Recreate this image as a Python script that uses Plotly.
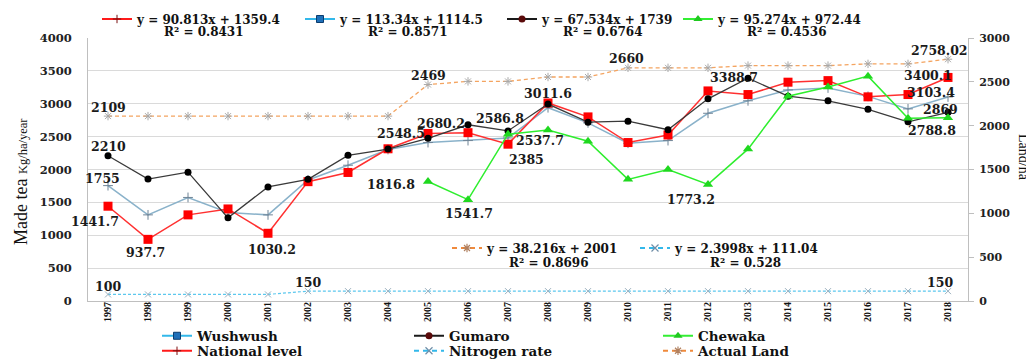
import plotly.graph_objects as go

# ---------------- data ----------------
years = [str(y) for y in range(1997, 2019)]

wushwush = [1755, 1310, 1575, 1345, 1310, 1840, 2065, 2305, 2410, 2440, 2480,
            2940, 2710, 2400, 2440, 2855, 3045, 3210, 3240, 3112, 2922, 3103.4]
gumaro = [2210, 1855, 1960, 1265, 1735, 1850, 2215, 2310, 2475, 2680.2, 2586.8,
          2995, 2720, 2735, 2605, 3075, 3388.7, 3115, 3045, 2915, 2725, 2869]
chewaka = [None, None, None, None, None, None, None, None, 1816.8, 1541.7, 2537.7,
           2600, 2430, 1850, 2000, 1773.2, 2310, 3115, 3255, 3420, 2780, 2788.8]
national = [1441.7, 937.7, 1310, 1400, 1030.2, 1815, 1955, 2315, 2548.5, 2560, 2385,
            3011.6, 2800, 2410, 2525, 3195, 3140, 3328, 3352, 3105, 3140, 3400.1]
nitrogen = [100, 100, 100, 100, 100, 150, 150, 150, 150, 150, 150,
            150, 150, 150, 150, 150, 150, 150, 150, 150, 150, 150]
actual_land = [2109, 2109, 2109, 2109, 2109, 2109, 2109, 2109, 2469, 2505, 2505,
               2555, 2555, 2660, 2660, 2660, 2685, 2685, 2685, 2705, 2705, 2758.02]

trend_eq = {
    "national": ("y = 90.813x + 1359.4", "R² = 0.8431"),
    "wushwush": ("y = 113.34x + 1114.5", "R² = 0.8571"),
    "gumaro": ("y = 67.534x + 1739", "R² = 0.6764"),
    "chewaka": ("y = 95.274x + 972.44", "R² = 0.4536"),
    "land": ("y = 38.216x + 2001", "R² = 0.8696"),
    "nitrogen": ("y = 2.3998x + 111.04", "R² = 0.528"),
}

series = {
    "wushwush": wushwush, "gumaro": gumaro, "chewaka": chewaka,
    "national": national, "nitrogen": nitrogen, "land": actual_land,
}
series_axis = {"wushwush": "y", "gumaro": "y", "chewaka": "y",
               "national": "y", "nitrogen": "y", "land": "y2"}

# data labels: (series, year, xshift, yshift)
data_labels = [
    ("gumaro", "1997", 0, 9), ("wushwush", "1997", -6, 7),
    ("national", "1997", -13, -15), ("national", "1998", -3, -13),
    ("national", "2001", 4, -16), ("nitrogen", "1997", 0, 8),
    ("nitrogen", "2002", 0, 9), ("nitrogen", "2018", -8, 9),
    ("land", "1997", 0, 9), ("land", "2005", 0, 9), ("land", "2010", -2, 9),
    ("land", "2018", -9, 9), ("chewaka", "2005", -37, -3),
    ("chewaka", "2006", 1, -14), ("chewaka", "2012", -17, -15),
    ("national", "2005", -27, 0), ("gumaro", "2006", -27, 1),
    ("gumaro", "2007", -8, 12), ("chewaka", "2007", 32, -6),
    ("national", "2007", 18, -15), ("national", "2008", 0, 9),
    ("gumaro", "2013", -14, 1), ("national", "2018", -20, 2),
    ("wushwush", "2018", -17, 4), ("gumaro", "2018", -8, 3),
    ("chewaka", "2018", -16, -13),
]

# ---------------- geometry (reference-pixel frame) ----------------
# the page places the figure 8px in from the top-left corner
OFF = 8
W, H = 1034 - OFF, 360 - OFF
PL, PR, PT, PB = 88, 968, 38, 301   # plot area in reference pixels


def px_x(px):
    return (px - PL) / (PR - PL)


def px_y(py):
    return (PB - py) / (PB - PT)


SERIF = "DejaVu Serif"
TIMES = "Liberation Serif"

styles = {
    "national": dict(line=dict(color="#FF3030", width=1.5),
                     marker=dict(symbol="square", size=9, color="#FF0000")),
    "wushwush": dict(line=dict(color="#8AB2CA", width=1.5),
                     marker=dict(symbol="cross-thin", size=7,
                                 line=dict(color="#6F8496", width=1))),
    "gumaro": dict(line=dict(color="#3A3A3A", width=1.3),
                   marker=dict(symbol="circle", size=7, color="#000000")),
    "chewaka": dict(line=dict(color="#2EEE2E", width=1.5),
                    marker=dict(symbol="triangle-up", size=9, color="#1FD81F")),
    "nitrogen": dict(line=dict(color="#5CC8EE", width=1.2, dash="3px,2px"),
                     marker=dict(symbol="x-thin", size=6,
                                 line=dict(color="#9AAFBE", width=1))),
    "land": dict(line=dict(color="#F4A460", width=1.3, dash="4px,3px"),
                 marker=dict(symbol="asterisk", size=7,
                             line=dict(color="#A8A8A8", width=1))),
}

legend_styles = {
    "wushwush": dict(line=dict(color="#33B8EA", width=2),
                     marker=dict(symbol="square", size=7, color="#1F6FB8",
                                 line=dict(color="#0B3C6E", width=1))),
    "national": dict(line=dict(color="#FF1A1A", width=2),
                     marker=dict(symbol="cross-thin", size=6,
                                 line=dict(color="#7A1010", width=1))),
    "gumaro": dict(line=dict(color="#1A1A1A", width=2),
                   marker=dict(symbol="circle", size=7, color="#5A0A0A")),
    "chewaka": dict(line=dict(color="#33EE33", width=2),
                    marker=dict(symbol="triangle-up", size=8, color="#1FC81F")),
    "nitrogen": dict(line=dict(color="#33B8EA", width=2, dash="5px,4px"),
                     marker=dict(symbol="x-thin", size=7,
                                 line=dict(color="#6F8EA8", width=1.2))),
    "land": dict(line=dict(color="#F08A3C", width=2, dash="5px,4px"),
                 marker=dict(symbol="asterisk", size=7,
                             line=dict(color="#B08060", width=1.2))),
}

fig = go.Figure()

draw_order = ["nitrogen", "wushwush", "national", "gumaro", "chewaka", "land"]
for key in draw_order:
    fig.add_trace(go.Scatter(
        x=years, y=series[key], mode="lines+markers",
        yaxis=series_axis[key], showlegend=False, hoverinfo="skip",
        connectgaps=False, **styles[key]))

# ---------------- legends (one item each) ----------------
EQ_FS = 12
LG_FS = 13.5
legend_items = [
    # key, text, text-start px, center-y px, font size
    ("wushwush", "Wushwush", 197, 336, LG_FS),
    ("national", "National level", 197, 351, LG_FS),
    ("gumaro", "Gumaro", 449, 336, LG_FS),
    ("nitrogen", "Nitrogen rate", 449, 351, LG_FS),
    ("chewaka", "Chewaka", 698, 336, LG_FS),
    ("land", "Actual Land", 698, 351, LG_FS),
    ("national", trend_eq["national"][0], 137, 19, EQ_FS),
    ("wushwush", trend_eq["wushwush"][0], 340, 19, EQ_FS),
    ("gumaro", trend_eq["gumaro"][0], 542, 19, EQ_FS),
    ("chewaka", trend_eq["chewaka"][0], 718, 19, EQ_FS),
    ("land", trend_eq["land"][0], 487, 248, EQ_FS),
    ("nitrogen", trend_eq["nitrogen"][0], 675, 248, EQ_FS),
]

layout_legends = {}
for i, (key, text, tx, cy, fs) in enumerate(legend_items):
    lid = "legend" if i == 0 else f"legend{i + 1}"
    fig.add_trace(go.Scatter(
        x=[None], y=[None], mode="lines+markers", name=text,
        legend=lid, showlegend=True, hoverinfo="skip",
        **legend_styles[key]))
    layout_legends[lid] = dict(
        x=px_x(tx - 40), y=px_y(cy), xanchor="left", yanchor="middle",
        bgcolor="rgba(0,0,0,0)", borderwidth=0, itemwidth=30,
        font=dict(family=SERIF, size=fs, color="#111111", weight="bold"),
    )

annotations = []
# R² lines under trend equations
r2_items = [("national", 204, 32), ("wushwush", 408, 32), ("gumaro", 603, 32),
            ("chewaka", 787, 32), ("land", 549, 263), ("nitrogen", 745, 263)]
for key, cx, cy in r2_items:
    annotations.append(dict(
        text=trend_eq[key][1], xref="paper", yref="paper",
        x=px_x(cx), y=px_y(cy), xanchor="center", yanchor="middle",
        showarrow=False,
        font=dict(family=SERIF, size=EQ_FS, color="#111111", weight="bold")))

# data labels (x given as category index)
for key, yr, dx, dy in data_labels:
    idx = years.index(yr)
    v = series[key][idx]
    annotations.append(dict(
        text=f"{v:g}", x=idx, y=v, xref="x", yref=series_axis[key],
        xshift=dx, yshift=dy, showarrow=False,
        font=dict(family=SERIF, size=12.5, color="#1A1A1A", weight="bold")))

# axis titles
annotations.append(dict(
    text="Made tea <span style='font-size:12.5px'>Kg/ha/year</span>",
    xref="paper", yref="paper", x=px_x(9), y=px_y(182),
    xanchor="left", yanchor="middle", textangle=-90, showarrow=False,
    font=dict(family=TIMES, size=18, color="#111111")))
annotations.append(dict(
    text="Land/ha", xref="paper", yref="paper", x=px_x(1024), y=px_y(157),
    xanchor="center", yanchor="middle", textangle=90, showarrow=False,
    font=dict(family=TIMES, size=14, color="#111111")))

fig.update_layout(
    width=W, height=H,
    margin=dict(l=PL - OFF, r=W - (PR - OFF), t=PT - OFF, b=H - (PB - OFF),
                autoexpand=False),
    paper_bgcolor="white", plot_bgcolor="white",
    annotations=annotations,
    xaxis=dict(type="category", range=[-0.5, 21.5], showgrid=False,
               showline=True, linecolor="#BFBFBF", linewidth=1,
               tickangle=-90, ticks="", ticklabelstandoff=-4,
               tickfont=dict(family=TIMES, size=10, color="#111111", weight="bold")),
    yaxis=dict(range=[0, 4000], dtick=500, showgrid=True, gridcolor="#DADADA",
               showline=True, linecolor="#BFBFBF", zeroline=False,
               ticks="", ticklabelstandoff=13,
               tickfont=dict(family=SERIF, size=11.5, color="#222222", weight="bold")),
    yaxis2=dict(range=[0, 3000], dtick=500, overlaying="y", side="right",
                showgrid=False, showline=True, linecolor="#BFBFBF", zeroline=False,
                ticks="outside", ticklen=5, tickcolor="#BFBFBF",
                ticklabelstandoff=3,
                tickfont=dict(family=SERIF, size=11, color="#222222", weight="bold")),
    **layout_legends,
)

fig.write_html("out.html")
